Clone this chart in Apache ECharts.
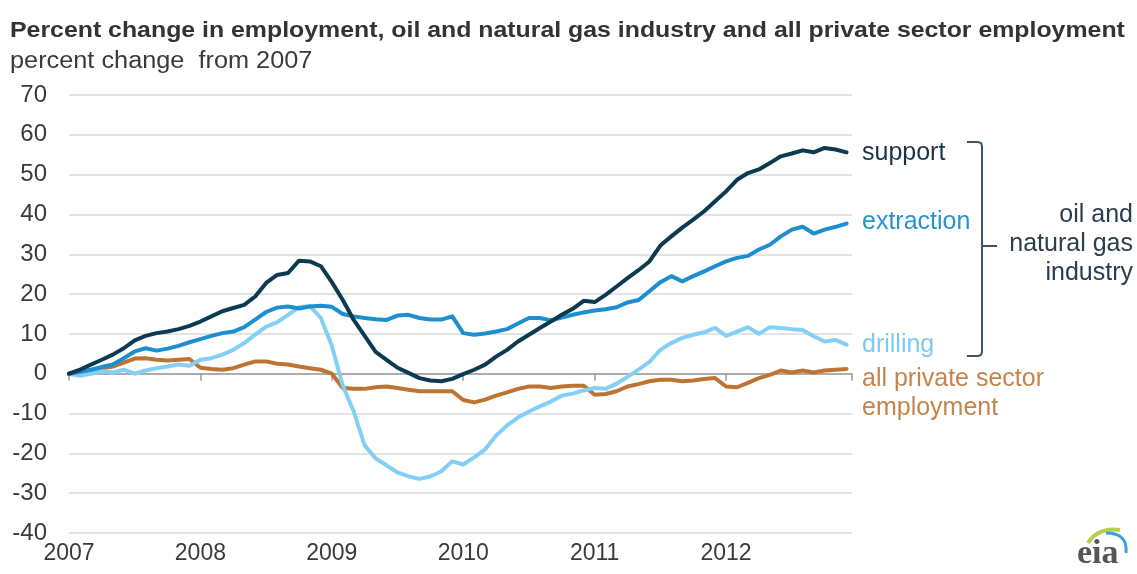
<!DOCTYPE html>
<html>
<head>
<meta charset="utf-8">
<script src="https://cdn.jsdelivr.net/npm/echarts@6/dist/echarts.min.js"></script>
<style>
  html, body { margin: 0; padding: 0; background: #fff; }
  #chart { width: 1137px; height: 574px; }
</style>
</head>
<body>
<div id="chart"></div>
<script>
// monthly series, Jan 2007 .. Dec 2012, percent change from 2007
const firstYear = 2007;
const support = [
  0, 1.0, 2.3, 3.5, 4.8, 6.4, 8.4, 9.5, 10.2, 10.6, 11.2, 12.0,
  13.1, 14.4, 15.7, 16.5, 17.3, 19.4, 22.8, 24.8, 25.3, 28.4, 28.2, 27.0,
  23.0, 18.5, 13.5, 9.5, 5.5, 3.5, 1.5, 0.2, -1.1, -1.7, -1.9, -1.3,
  -0.1, 1.0, 2.3, 4.3, 6.0, 8.1, 9.8, 11.5, 13.1, 14.8, 16.3, 18.3,
  18.0, 19.8, 21.9, 24.0, 26.0, 28.2, 32.2, 34.5, 36.7, 38.7, 40.8, 43.3,
  45.8, 48.7, 50.4, 51.3, 52.9, 54.6, 55.3, 56.1, 55.6, 56.7, 56.3, 55.6
];
const extraction = [
  0, 0.5, 1.0, 1.7, 2.3, 3.9, 5.6, 6.4, 5.8, 6.3, 7.0, 7.9,
  8.7, 9.5, 10.2, 10.6, 11.7, 13.6, 15.5, 16.6, 16.9, 16.4, 16.9, 17.1,
  16.8, 15.0, 14.4, 14.0, 13.7, 13.5, 14.6, 14.8, 14.0, 13.6, 13.6, 14.4,
  10.2, 9.8, 10.1, 10.6, 11.2, 12.6, 14.0, 14.0, 13.4, 14.1, 14.8, 15.4,
  15.9, 16.2, 16.7, 17.9, 18.5, 20.7, 23.0, 24.5, 23.2, 24.5, 25.7, 27.0,
  28.2, 29.1, 29.6, 31.2, 32.4, 34.5, 36.2, 36.9, 35.2, 36.2, 36.9, 37.7
];
const drilling = [
  0, -0.5, 0, 0.6, 0.3, 1.0, 0.0, 0.8, 1.4, 1.8, 2.3, 2.0,
  3.5, 3.9, 4.8, 6.0, 7.7, 9.8, 11.8, 12.9, 14.8, 16.7, 17.0, 14.0,
  7.0, -3.0, -9.5, -18.0, -21.3, -23.0, -24.8, -25.8, -26.4, -25.8, -24.5, -22.0,
  -22.8, -21.0, -19.0, -15.5, -13.0, -11.0, -9.5, -8.2, -7.0, -5.5, -5.0, -4.2,
  -3.6, -3.8, -2.5, -0.8, 1.0, 3.0, 6.0, 7.7, 9.0, 9.8, 10.4, 11.5,
  9.5, 10.6, 11.7, 10.0, 11.7, 11.5, 11.2, 11.0, 9.4, 8.1, 8.5, 7.3
];
const allPrivate = [
  0, 0.2, 0.8, 1.4, 1.8, 2.8, 3.8, 3.9, 3.5, 3.3, 3.5, 3.7,
  1.5, 1.2, 1.0, 1.4, 2.3, 3.1, 3.1, 2.5, 2.3, 1.8, 1.4, 1.0,
  0.0, -3.6, -3.8, -3.8, -3.4, -3.2, -3.6, -4.0, -4.4, -4.4, -4.4, -4.4,
  -6.6, -7.2, -6.5, -5.5, -4.7, -3.8, -3.2, -3.2, -3.6, -3.2, -3.0, -3.0,
  -5.3, -5.1, -4.4, -3.2, -2.6, -1.9, -1.5, -1.5, -1.9, -1.7, -1.3, -1.1,
  -3.2, -3.4, -2.3, -1.1, -0.3, 0.8, 0.3, 0.8, 0.3, 0.8, 1.0, 1.2
];

const COLORS = {
  support: '#0c3a53',
  extraction: '#1c8fd0',
  drilling: '#84cff5',
  allPrivate: '#bd7432'
};
const FONT = '"Liberation Sans", Arial, sans-serif';
const BRACE = '#3d5566';

const toPoints = arr => arr.map((v, i) => [i, v]);

const lineSeries = (name, data, color) => ({
  name,
  type: 'line',
  data: toPoints(data),
  showSymbol: false,
  smooth: false,
  lineStyle: { color, width: 4, cap: 'round', join: 'round' },
  itemStyle: { color },
  emphasis: { disabled: true },
  z: 3
});

const text = (x, y, str, fill, extra = {}, scaleX = 1) => ({
  type: 'text',
  x,
  y,
  scaleX,
  style: Object.assign({
    text: str,
    fill,
    font: '25px ' + FONT,
    verticalAlign: 'middle'
  }, extra)
});

const chart = echarts.init(document.getElementById('chart'));
chart.setOption({
  animation: false,
  backgroundColor: '#fff',
  grid: { left: 69, right: 285, top: 95, bottom: 41 },
  xAxis: [
    {
      type: 'value',
      position: 'bottom',
      min: 0,
      max: 71.5,
      interval: 12,
      axisLine: { show: false, onZero: false },
      axisTick: { show: false },
      splitLine: { show: false },
      axisLabel: {
        margin: 9,
        fontSize: 23,
        fontFamily: FONT,
        color: '#3a3a3a',
        formatter: v => (v % 12 === 0 ? String(firstYear + v / 12) : '')
      }
    },
    {
      type: 'value',
      position: 'top',
      min: 0,
      max: 71.5,
      interval: 12,
      axisLine: { show: true, onZero: true, lineStyle: { color: '#9a9a9a', width: 1.5 } },
      axisTick: { show: true, inside: true, length: 7, lineStyle: { color: '#9a9a9a', width: 1.5 } },
      axisLabel: { show: false },
      splitLine: { show: false }
    }
  ],
  yAxis: {
    type: 'value',
    min: -40,
    max: 70,
    interval: 10,
    axisLine: { show: false },
    axisTick: { show: false },
    axisLabel: { margin: 22, fontSize: 24, fontFamily: FONT, color: '#3a3a3a' },
    splitLine: { lineStyle: { color: '#dadada', width: 1.5 } }
  },
  series: [
    lineSeries('all private sector employment', allPrivate, COLORS.allPrivate),
    lineSeries('drilling', drilling, COLORS.drilling),
    lineSeries('extraction', extraction, COLORS.extraction),
    lineSeries('support', support, COLORS.support)
  ],
  graphic: [
    text(10, 31, 'Percent change in employment, oil and natural gas industry and all private sector employment', '#333',
      { font: 'bold 22px ' + FONT }, 1.13),
    text(10, 62, 'percent change  from 2007', '#3a3a3a', { font: '23px ' + FONT }, 1.1),
    text(862, 153, 'support', '#1a3447'),
    text(862, 222, 'extraction', '#2794d1'),
    text(862, 345, 'drilling', '#7ecbf1'),
    text(862, 379, 'all private sector', '#c6844a'),
    text(862, 408, 'employment', '#c6844a'),
    text(1133, 244, 'oil and\nnatural gas\nindustry', '#2b3e4e', { align: 'right', lineHeight: 29 }),
    // brace grouping the three industry series
    {
      type: 'polyline',
      shape: { points: [[967, 142], [978, 142], [981, 143], [982, 146], [982, 352], [981, 355], [978, 356], [967, 356]] },
      style: { stroke: BRACE, lineWidth: 2, fill: null }
    },
    {
      type: 'line',
      shape: { x1: 982, y1: 246, x2: 997, y2: 246 },
      style: { stroke: BRACE, lineWidth: 2 }
    },
    // eia logo
    {
      type: 'bezierCurve',
      shape: { x1: 1088, y1: 543, cpx1: 1098, cpy1: 527, x2: 1120, y2: 530 },
      style: { stroke: '#b8cf4a', lineWidth: 4, fill: null }
    },
    {
      type: 'bezierCurve',
      shape: { x1: 1106, y1: 533, cpx1: 1128, cpy1: 533, x2: 1126, y2: 553 },
      style: { stroke: '#3aa0d8', lineWidth: 3, fill: null }
    },
    text(1077, 554, 'eia', '#555', { font: 'bold 34px "Liberation Serif", "DejaVu Serif", serif' })
  ]
});
</script>
</body>
</html>
